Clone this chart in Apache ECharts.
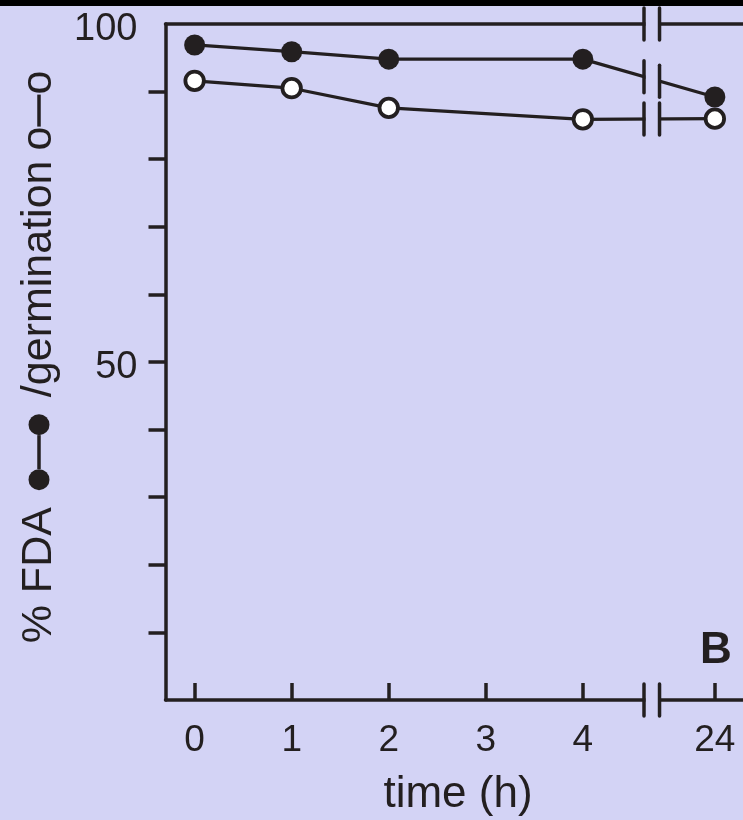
<!DOCTYPE html>
<html>
<head>
<meta charset="utf-8">
<script src="https://cdn.jsdelivr.net/npm/echarts@6/dist/echarts.min.js"></script>
<style>
  html, body { margin: 0; padding: 0; background: #d3d3f5; }
  #chart { width: 743px; height: 820px; }
</style>
</head>
<body>
<div id="chart"></div>
<script>
// ---- data ----
const hours = [0, 1, 2, 4, 24];
const fdaValues = [96.9, 95.9, 94.8, 94.8, 89.2];     // filled circles
const germValues = [91.6, 90.5, 87.6, 85.9, 86.0];    // open circles
const xTickHours = [0, 1, 2, 3, 4, 24];
const xTickLabels = ['0', '1', '2', '3', '4', '24'];
const yTickValues = [10, 20, 30, 40, 50, 60, 70, 80, 90];
const yLabelValues = [50, 100];

// broken time axis: 0-4 h linear, then a break, then 24 h
const AXIS_POS_24 = 5.36;
const BREAK_FROM = 4.63;
const BREAK_TO = 4.79;
function hourToAxis(h) { return h <= 4 ? h : AXIS_POS_24; }

const INK = '#231f20';
const BG = '#d3d3f5';
const FONT = '"Liberation Sans", Arial, Helvetica, sans-serif';

const tickPos = xTickHours.map(hourToAxis);
const fdaData = hours.map((h, i) => [hourToAxis(h), fdaValues[i]]);
const germData = hours.map((h, i) => [hourToAxis(h), germValues[i]]);

const chart = echarts.init(document.getElementById('chart'), null, { renderer: 'canvas' });

const X_MIN = -0.3, X_MAX = 5.65;
const option = {
  backgroundColor: BG,
  animation: false,
  textStyle: { fontFamily: FONT, color: INK },
  grid: { left: 165.5, top: 24, height: 676, width: 577.5 },
  xAxis: [
    {
      type: 'value', min: X_MIN, max: X_MAX,
      position: 'bottom',
      splitLine: { show: false },
      axisLine: { show: true, onZero: false, lineStyle: { color: INK, width: 3.5 } },
      axisTick: { show: true, inside: true, length: 17, customValues: tickPos,
                  lineStyle: { color: INK, width: 3.5 } },
      axisLabel: {
        show: true, customValues: tickPos, margin: 22,
        fontSize: 37, color: INK, fontFamily: FONT,
        formatter: function (v) {
          const i = tickPos.findIndex(p => Math.abs(p - v) < 1e-6);
          return i >= 0 ? xTickLabels[i] : '';
        }
      }
    },
    {
      type: 'value', min: X_MIN, max: X_MAX,
      position: 'top',
      splitLine: { show: false },
      axisLine: { show: true, onZero: false, lineStyle: { color: INK, width: 3.5 } },
      axisTick: { show: false },
      axisLabel: { show: false }
    }
  ],
  yAxis: {
    type: 'value', min: 0, max: 100, interval: 10,
    splitLine: { show: false },
    axisLine: { show: true, onZero: false, lineStyle: { color: INK, width: 3.5 } },
    axisTick: { show: true, inside: false, length: 17, customValues: yTickValues,
                lineStyle: { color: INK, width: 3.5 } },
    axisLabel: {
      show: true, customValues: yLabelValues, margin: 28,
      formatter: function (v) { return '{n|' + v + '}'; },
      rich: { n: { fontSize: 38, color: INK, fontFamily: FONT, padding: [12, 0, 0, 0] } }
    }
  },
  series: [
    {
      name: 'germination', type: 'line', data: germData,
      symbol: 'circle', symbolSize: 18.5, z: 3,
      lineStyle: { color: INK, width: 3.2 },
      itemStyle: { color: '#ffffff', borderColor: INK, borderWidth: 3.8 }
    },
    {
      name: 'FDA', type: 'line', data: fdaData,
      symbol: 'circle', symbolSize: 21, z: 4,
      lineStyle: { color: INK, width: 3.2 },
      itemStyle: { color: INK, borderColor: INK, borderWidth: 0 }
    }
  ]
};
chart.setOption(option);

// ---- decorations: axis/line breaks, titles, panel letter ----
function px(x, y) { return chart.convertToPixel({ xAxisIndex: 0, yAxisIndex: 0 }, [x, y]); }
function lineYAt(data, ax) {
  // pixel y of the straight segment between the 4 h and 24 h points, at axis position ax
  const a = px(data[3][0], data[3][1]);
  const b = px(data[4][0], data[4][1]);
  const xx = px(ax, 0)[0];
  return a[1] + (b[1] - a[1]) * (xx - a[0]) / (b[0] - a[0]);
}
const xL = px(BREAK_FROM, 0)[0];
const xR = px(BREAK_TO, 0)[0];
const yTop = px(0, 100)[1];
const yBot = px(0, 0)[1];

const graphics = [];
graphics.push({ type: 'rect', z: 200, shape: { x: 0, y: 0, width: 743, height: 6 }, style: { fill: '#000' } });
graphics.push({ type: 'rect', z: 100, shape: { x: xL + 1.5, y: 6, width: xR - xL - 3, height: yBot + 20 - 6 },
                style: { fill: BG } });
[BREAK_FROM, BREAK_TO].forEach(function (ax) {
  const x = px(ax, 0)[0];
  const ys = [yTop, lineYAt(fdaData, ax), lineYAt(germData, ax), yBot];
  ys.forEach(function (y) {
    graphics.push({ type: 'line', z: 101,
      shape: { x1: x, y1: y - 16, x2: x, y2: y + 16 },
      style: { stroke: INK, lineWidth: 3.5, lineCap: 'round' } });
  });
});
graphics.push({
  type: 'text', z: 110, x: 39, y: 357, rotation: Math.PI / 2,
  style: {
    text: '% FDA{sp1| }{dot| }{ln| }{dot| }{sp1| }/germination{sp2| }o{ln2| }o',
    fontSize: 43, fontFamily: FONT, fill: INK,
    align: 'center', verticalAlign: 'middle',
    rich: {
      sp1: { width: 17, height: 2 },
      sp2: { width: 10, height: 2 },
      dot: { width: 21, height: 21, backgroundColor: INK, borderRadius: 10.5, verticalAlign: 'middle' },
      ln: { width: 34, height: 3.5, backgroundColor: INK, verticalAlign: 'middle' },
      ln2: { width: 32, height: 3.5, backgroundColor: INK, verticalAlign: 'middle' }
    }
  }
});
graphics.push({
  type: 'text', z: 110, x: 458, y: 795,
  style: { text: 'time (h)', fontSize: 44, fontFamily: FONT, fill: INK, align: 'center', verticalAlign: 'middle' }
});
graphics.push({
  type: 'text', z: 110, x: 716, y: 651,
  style: { text: 'B', fontSize: 44, fontWeight: 'bold', fontFamily: FONT, fill: INK, align: 'center', verticalAlign: 'middle' }
});
chart.setOption({ graphic: graphics });
</script>
</body>
</html>
